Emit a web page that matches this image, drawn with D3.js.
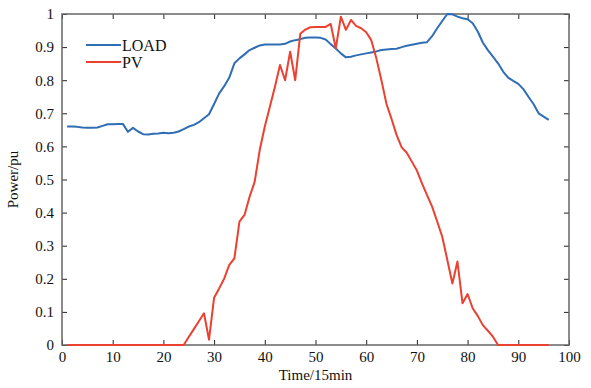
<!DOCTYPE html>
<html>
<head>
<meta charset="utf-8">
<script src="https://cdn.jsdelivr.net/npm/d3@7"></script>
<style>
  body { margin: 0; background: #fff; }
  text { font-family: "Liberation Serif", "Times New Roman", serif; }
</style>
</head>
<body>
<svg width="591" height="388"></svg>
<script>
// 96 intervals of 15 minutes
const time = d3.range(1, 97);

const loadValues = [
  0.660, 0.660, 0.659, 0.657, 0.656, 0.656, 0.657, 0.662, 0.667, 0.667,
  0.668, 0.668, 0.644, 0.656, 0.645, 0.637, 0.636, 0.638, 0.639, 0.641,
  0.640, 0.641, 0.645, 0.652, 0.660, 0.665, 0.673, 0.685, 0.697, 0.728,
  0.760, 0.782, 0.808, 0.851, 0.866, 0.878, 0.891, 0.898, 0.905, 0.908,
  0.908, 0.908, 0.908, 0.910, 0.917, 0.921, 0.924, 0.928, 0.929, 0.929,
  0.928, 0.923, 0.909, 0.896, 0.881, 0.869, 0.871, 0.875, 0.878, 0.881,
  0.884, 0.887, 0.891, 0.893, 0.894, 0.895, 0.900, 0.904, 0.907, 0.910,
  0.913, 0.915, 0.933, 0.957, 0.979, 1.000, 0.999, 0.992, 0.987, 0.984,
  0.972, 0.947, 0.914, 0.891, 0.871, 0.851, 0.826, 0.808, 0.798, 0.789,
  0.773, 0.750, 0.728, 0.700, 0.690, 0.680
];

const pvValues = [
  0, 0, 0, 0, 0, 0, 0, 0, 0, 0,
  0, 0, 0, 0, 0, 0, 0, 0, 0, 0,
  0, 0, 0, 0, 0.024, 0.048, 0.072, 0.096, 0.016, 0.143,
  0.171, 0.201, 0.242, 0.262, 0.373, 0.393, 0.448, 0.493, 0.589, 0.660,
  0.720, 0.780, 0.846, 0.800, 0.886, 0.800, 0.940, 0.953, 0.960, 0.961,
  0.961, 0.961, 0.970, 0.896, 0.992, 0.952, 0.982, 0.964, 0.957, 0.945,
  0.921, 0.866, 0.800, 0.728, 0.683, 0.634, 0.597, 0.581, 0.554, 0.527,
  0.488, 0.453, 0.418, 0.373, 0.327, 0.257, 0.186, 0.252, 0.126, 0.154,
  0.111, 0.088, 0.060, 0.043, 0.025, 0, 0, 0, 0, 0,
  0, 0, 0, 0, 0, 0
];

const xTicks = d3.range(0, 101, 10);
const yTicks = d3.range(0, 11).map(i => i / 10);

const series = [
  { name: 'LOAD', values: loadValues, color: '#2f6db5' },
  { name: 'PV', values: pvValues, color: '#eb4130' }
];

const svg = d3.select('svg');
const margin = { top: 14, right: 22, bottom: 43, left: 62 };
const width = +svg.attr('width') - margin.left - margin.right;
const height = +svg.attr('height') - margin.top - margin.bottom;
const g = svg.append('g')
  .attr('transform', `translate(${margin.left},${margin.top})`);

const x = d3.scaleLinear().domain([0, 100]).range([0, width]);
const y = d3.scaleLinear().domain([0, 1]).range([height, 0]);

const fmtY = d => (d === 0 || d === 1) ? String(d) : d3.format('.1f')(d);

// axes with inward ticks
const styleAxis = sel => {
  sel.select('.domain').remove();
  sel.selectAll('.tick line').attr('stroke', '#222').attr('stroke-width', 1);
  sel.selectAll('.tick text')
    .attr('fill', '#111')
    .style('font-size', '15px')
    .style('font-family', '"Liberation Serif", serif');
};

g.append('g')
  .attr('transform', `translate(0,${height})`)
  .call(d3.axisBottom(x).tickValues(xTicks).tickSizeInner(-5).tickSizeOuter(0).tickPadding(6))
  .call(styleAxis);

g.append('g')
  .call(d3.axisLeft(y).tickValues(yTicks).tickFormat(fmtY).tickSizeInner(-5).tickSizeOuter(0).tickPadding(8))
  .call(styleAxis);

g.append('g')
  .call(d3.axisTop(x).tickValues(xTicks).tickFormat('').tickSizeInner(-5).tickSizeOuter(0))
  .call(styleAxis);

g.append('g')
  .attr('transform', `translate(${width},0)`)
  .call(d3.axisRight(y).tickValues(yTicks).tickFormat('').tickSizeInner(-5).tickSizeOuter(0))
  .call(styleAxis);

// box
g.append('rect')
  .attr('width', width)
  .attr('height', height)
  .attr('fill', 'none')
  .attr('stroke', '#666')
  .attr('stroke-width', 1.5);

const line = d3.line()
  .x((d, i) => x(time[i]))
  .y(d => y(d));

series.forEach(s => {
  g.append('path')
    .datum(s.values)
    .attr('fill', 'none')
    .attr('stroke', s.color)
    .attr('stroke-width', 2)
    .attr('stroke-linejoin', 'round')
    .attr('d', line);
});

// legend
const legend = g.append('g').attr('transform', 'translate(24,31)');
series.forEach((s, i) => {
  const row = legend.append('g').attr('transform', `translate(0,${i * 17})`);
  row.append('line')
    .attr('x1', 0).attr('x2', 35)
    .attr('stroke', s.color).attr('stroke-width', 2);
  row.append('text')
    .attr('x', 36).attr('y', 6)
    .attr('fill', '#111')
    .style('font-size', '16px')
    .text(s.name);
});

// axis titles
svg.append('text')
  .attr('x', margin.left + width / 2)
  .attr('y', 380)
  .attr('text-anchor', 'middle')
  .attr('fill', '#111')
  .style('font-size', '15px')
  .text('Time/15min');

svg.append('text')
  .attr('transform', `translate(18,${margin.top + height / 2}) rotate(-90)`)
  .attr('text-anchor', 'middle')
  .attr('fill', '#111')
  .style('font-size', '15px')
  .text('Power/pu');
</script>
</body>
</html>
